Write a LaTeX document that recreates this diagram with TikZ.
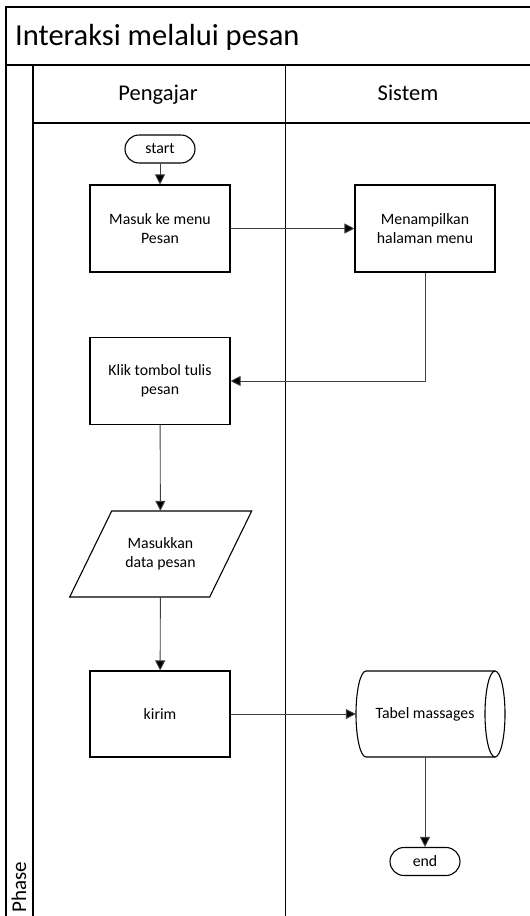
\documentclass[tikz,border=0pt]{standalone}
\usepackage{fontspec}
\setmainfont{Carlito}
\usetikzlibrary{arrows.meta}
\begin{document}
\begin{tikzpicture}[x=1pt,y=-1pt,
  lane/.style={line width=1.5pt},
  outline/.style={line width=1.1pt, line join=miter},
  txt/.style={font=\fontsize{15.8}{18.5}\selectfont, align=center, inner sep=2pt},
  proc/.style={txt, draw, line width=1.1pt, minimum width=140pt, minimum height=87pt},
  term/.style={txt, draw, line width=1.1pt, rounded corners=14pt, minimum width=70pt, minimum height=28pt, inner sep=0pt},
  conn/.style={line width=0.9pt, draw=black!75, -{Triangle[length=10pt,width=10pt,fill=black]}}]
\useasboundingbox (0,0) rectangle (530,916);

% swimlane frame
\draw[lane] (6,7) rectangle (532,918);
\draw[lane] (6,65) -- (532,65);
\draw[lane] (33,65) -- (33,918);
\draw[lane] (285.5,65) -- (285.5,918);
\draw[lane] (33,123) -- (532,123);

% titles
\node[anchor=base west, inner sep=0pt, font=\fontsize{30.5}{32}\selectfont] (title) at (15,45) {Interaksi melalui pesan};
\node[anchor=base, inner sep=0pt, font=\fontsize{22.5}{24}\selectfont] (pengajar) at (158,100) {Pengajar};
\node[anchor=base, inner sep=0pt, font=\fontsize{22.5}{24}\selectfont] (sistem) at (408,100) {Sistem};
\node[rotate=90, anchor=base west, inner sep=0pt, font=\fontsize{21}{24}\selectfont] (phase) at (26,913) {Phase};

% flow nodes
\node[term] (start) at (160,149) {start};
\node[proc] (masuk) at (160,228.5) {Masuk ke menu\\Pesan};
\node[proc] (tampil) at (425,228.5) {Menampilkan\\halaman menu};
\node[proc] (klik) at (160,381) {Klik tombol tulis\\pesan};

\node[txt, minimum width=140pt, minimum height=86pt] (input) at (160.5,554) {Masukkan\\data pesan};
\draw[outline] (111.7,511) -- (251.7,511) -- (209.7,597) -- (69.7,597) -- cycle;

\node[proc, minimum height=86pt] (kirim) at (160,714) {kirim};

% stored-data symbol
\node[txt, minimum width=138pt, minimum height=86pt] (tabel) at (425,714) {Tabel massages};
\draw[outline] (366,671) -- (495,671)
  arc[start angle=90, end angle=-90, x radius=10pt, y radius=43pt]
  -- (366,757)
  arc[start angle=270, end angle=90, x radius=10pt, y radius=43pt] -- cycle;
\draw[outline] (495,671) arc[start angle=90, end angle=270, x radius=10pt, y radius=43pt];

\node[term] (end) at (425,861.5) {end};

% connectors
\draw[conn] (start) -- (masuk);
\draw[conn] (masuk) -- (tampil);
\draw[conn] (tampil.south) |- (klik.east);
\draw[conn] (klik) -- (input);
\draw[conn] (input) -- (kirim);
\draw[conn] (kirim) -- (tabel);
\draw[conn] (tabel) -- (end);
\end{tikzpicture}
\end{document}
